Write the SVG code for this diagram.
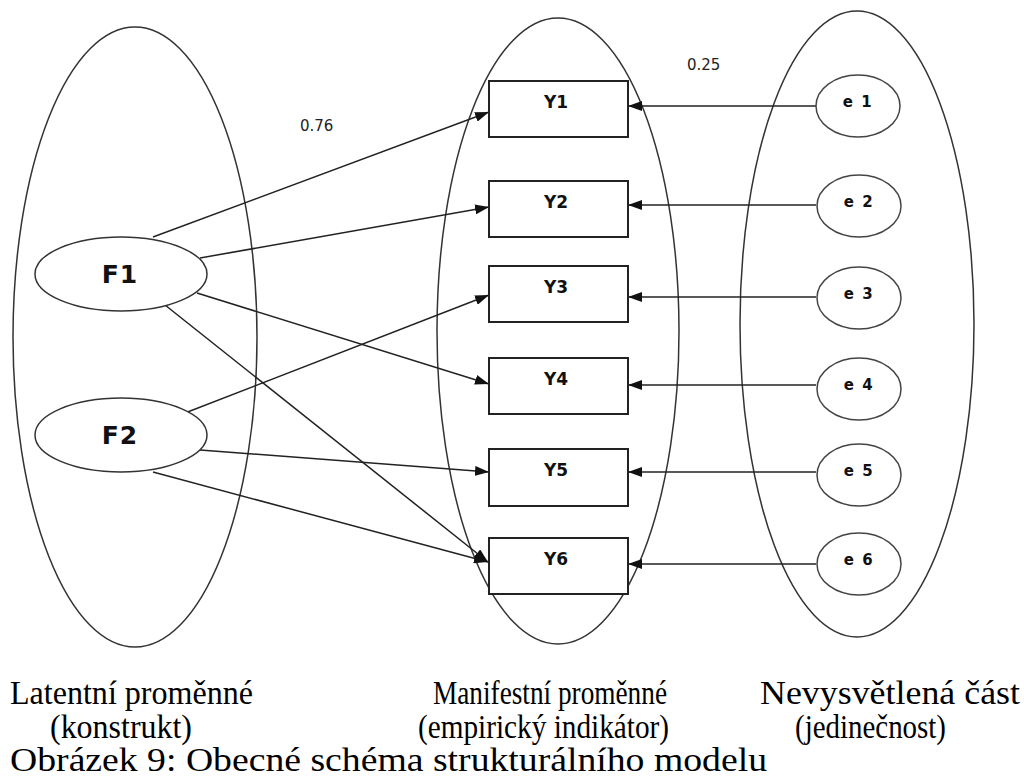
<svg xmlns="http://www.w3.org/2000/svg" width="1024" height="780" viewBox="0 0 1024 780">
  <style>
    .group { fill: none; stroke: #333; stroke-width: 1.5; }
    .factor { fill: #fff; stroke: #333; stroke-width: 1.5; }
    .item { fill: #fff; stroke: #222; stroke-width: 2; }
    .err { fill: #fff; stroke: #444; stroke-width: 1.5; }
    .edge { stroke: #222; stroke-width: 1.5; fill: none; marker-end: url(#arrow); }
    .flabel { font-family: "DejaVu Sans", Verdana, sans-serif; font-weight: bold; font-size: 25px; letter-spacing: 1px; fill: #111; text-anchor: middle; }
    .ylabel { font-family: "DejaVu Sans", Verdana, sans-serif; font-weight: bold; font-size: 17px; fill: #111; text-anchor: middle; }
    .elabel { font-family: "DejaVu Sans", Verdana, sans-serif; font-weight: bold; font-size: 15px; letter-spacing: 1.5px; fill: #111; text-anchor: middle; }
    .coef { font-family: "DejaVu Sans", Verdana, sans-serif; font-size: 15px; fill: #222; }
    .caption { font-family: "Liberation Serif", "Times New Roman", serif; font-size: 33px; fill: #000; }
  </style>
  <defs>
    <marker id="arrow" markerUnits="userSpaceOnUse" markerWidth="14" markerHeight="10" refX="14" refY="5" orient="auto">
      <path d="M0,0 L14,5 L0,10 z" fill="#111"/>
    </marker>
  </defs>

  <rect width="1024" height="780" fill="#fff"/>

  <!-- grouping ellipses -->
  <g id="latent-group"><ellipse class="group" cx="135" cy="337" rx="122" ry="310"/></g>
  <g id="manifest-group"><ellipse class="group" cx="558" cy="331" rx="121" ry="313"/></g>
  <g id="unique-group"><ellipse class="group" cx="857" cy="324" rx="117" ry="313"/></g>

  <!-- connectors -->
  <g id="connectors">
    <line class="edge" x1="153" y1="237" x2="489" y2="112"/>
    <line class="edge" x1="200" y1="258" x2="489" y2="207"/>
    <line class="edge" x1="197" y1="293" x2="489" y2="384"/>
    <line class="edge" x1="165" y1="305" x2="488" y2="562"/>
    <line class="edge" x1="185" y1="413" x2="489" y2="295"/>
    <line class="edge" x1="200" y1="450" x2="489" y2="472"/>
    <line class="edge" x1="153" y1="472" x2="488" y2="562"/>
    <line class="edge" x1="816" y1="106" x2="628" y2="106"/>
    <line class="edge" x1="816" y1="205" x2="628" y2="205"/>
    <line class="edge" x1="816" y1="297" x2="628" y2="297"/>
    <line class="edge" x1="816" y1="385" x2="628" y2="385"/>
    <line class="edge" x1="816" y1="472" x2="628" y2="472"/>
    <line class="edge" x1="816" y1="564" x2="628" y2="564"/>
    <text class="coef" x="300" y="131">0.76</text>
    <text class="coef" x="687" y="70">0.25</text>
  </g>

  <!-- latent factors -->
  <g id="F1"><ellipse class="factor" cx="121" cy="274" rx="86" ry="37"/><text class="flabel" x="120" y="283">F1</text></g>
  <g id="F2"><ellipse class="factor" cx="121" cy="435" rx="86" ry="37"/><text class="flabel" x="120" y="444">F2</text></g>

  <!-- manifest indicators -->
  <g id="Y1"><rect class="item" x="489" y="81" width="139" height="56"/><text class="ylabel" x="556" y="108">Y1</text></g>
  <g id="Y2"><rect class="item" x="489" y="181" width="139" height="56"/><text class="ylabel" x="556" y="208">Y2</text></g>
  <g id="Y3"><rect class="item" x="489" y="266" width="139" height="56"/><text class="ylabel" x="556" y="293">Y3</text></g>
  <g id="Y4"><rect class="item" x="489" y="358" width="139" height="56"/><text class="ylabel" x="556" y="385">Y4</text></g>
  <g id="Y5"><rect class="item" x="489" y="449" width="139" height="57"/><text class="ylabel" x="556" y="476">Y5</text></g>
  <g id="Y6"><rect class="item" x="489" y="538" width="139" height="56"/><text class="ylabel" x="556" y="565">Y6</text></g>

  <!-- unique parts (errors) -->
  <g id="e1"><ellipse class="err" cx="858" cy="106" rx="42" ry="31"/><text class="elabel" x="858" y="107">e 1</text></g>
  <g id="e2"><ellipse class="err" cx="859" cy="206" rx="42" ry="31"/><text class="elabel" x="859" y="207">e 2</text></g>
  <g id="e3"><ellipse class="err" cx="859" cy="298" rx="42" ry="31"/><text class="elabel" x="859" y="299">e 3</text></g>
  <g id="e4"><ellipse class="err" cx="859" cy="389" rx="42" ry="31"/><text class="elabel" x="859" y="390">e 4</text></g>
  <g id="e5"><ellipse class="err" cx="859" cy="475" rx="42" ry="31"/><text class="elabel" x="859" y="476">e 5</text></g>
  <g id="e6"><ellipse class="err" cx="859" cy="564" rx="42" ry="31"/><text class="elabel" x="859" y="565">e 6</text></g>

  <!-- captions -->
  <g id="captions">
    <text class="caption" x="10" y="704" textLength="243" lengthAdjust="spacingAndGlyphs">Latentní proměnné</text>
    <text class="caption" x="50" y="738" textLength="142" lengthAdjust="spacingAndGlyphs">(konstrukt)</text>
    <text class="caption" x="433" y="704" textLength="234" lengthAdjust="spacingAndGlyphs">Manifestní proměnné</text>
    <text class="caption" x="418" y="738" textLength="251" lengthAdjust="spacingAndGlyphs">(empirický indikátor)</text>
    <text class="caption" x="760" y="704" textLength="260" lengthAdjust="spacingAndGlyphs">Nevysvětlená část</text>
    <text class="caption" x="795" y="738" textLength="151" lengthAdjust="spacingAndGlyphs">(jedinečnost)</text>
    <text class="caption" x="10" y="771" textLength="757" lengthAdjust="spacingAndGlyphs">Obrázek 9: Obecné schéma strukturálního modelu</text>
  </g>
</svg>
